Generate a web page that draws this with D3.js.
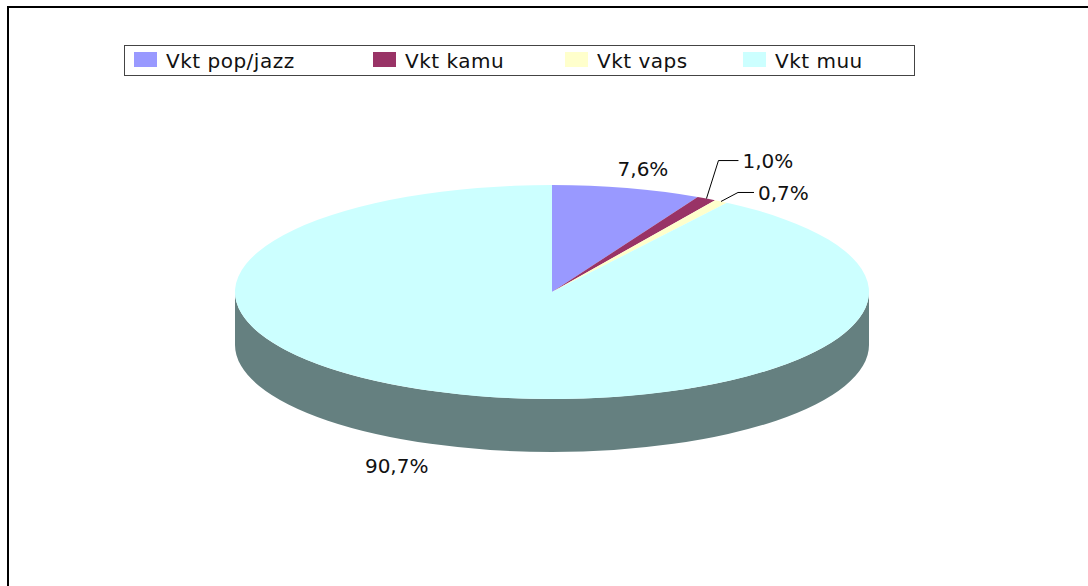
<!DOCTYPE html>
<html>
<head>
<meta charset="utf-8">
<script src="https://cdn.jsdelivr.net/npm/d3@7"></script>
<style>
  html, body { margin: 0; padding: 0; background: #fff; overflow: hidden; }
  text { font-family: "DejaVu Sans", Verdana, sans-serif; fill: #111; }
</style>
</head>
<body>
<script>
'use strict';

// chart data
const categories = ["Vkt pop/jazz", "Vkt kamu", "Vkt vaps", "Vkt muu"];
const shares = [7.6, 1.0, 0.7, 90.7];
const shareLabels = ["7,6%", "1,0%", "0,7%", "90,7%"];
const topColors = ["#9999ff", "#993366", "#ffffcc", "#ccffff"];
const sideColors = ["#66668a", "#662244", "#8a8a70", "#658080"];

(function() {
  const width = 1088, height = 586;

  // pie geometry (ellipse seen in perspective)
  const cx = 552, cy = 292, rx = 317, ry = 107, depth = 53;

  // label tweaks relative to the slice mid-point on the rim
  const labelLayout = [
    { dx: 16, dy: -12, leader: false },
    { dx: 36, knee: [12, -38], end: 32, leader: true },
    { dx: 37, knee: [17, -9], end: 33, leader: true },
    { dx: -64, dy: 79, leader: false }
  ];

  // left edge of each legend entry
  const legendSlots = [134, 373, 565, 743];

  const svg = d3.select('body')
    .append('svg')
    .attr('width', width)
    .attr('height', height);

  // outer frame (runs off the page on the right and bottom)
  svg.append('rect')
    .attr('x', 8).attr('y', 7)
    .attr('width', 1100).attr('height', 600)
    .attr('fill', 'none')
    .attr('stroke', '#000')
    .attr('stroke-width', 2);

  const pie = d3.pie().sort(null).value(d => d)(shares);

  // point on the top ellipse for an angle measured clockwise from 12 o'clock
  function pt(a, dy) {
    return [cx + rx * Math.sin(a), cy - ry * Math.cos(a) + (dy || 0)];
  }

  // side walls: only the front half (pi/2 .. 3pi/2) is visible
  const sides = svg.append('g');
  pie.forEach((p, i) => {
    const s = Math.max(p.startAngle, Math.PI / 2);
    const e = Math.min(p.endAngle, Math.PI * 3 / 2);
    if (e <= s) return;
    const a = pt(s), b = pt(e), bb = pt(e, depth), ab = pt(s, depth);
    const large = (e - s) > Math.PI ? 1 : 0;
    sides.append('path')
      .attr('d', `M${a} A${rx},${ry} 0 ${large} 1 ${b} L${bb} A${rx},${ry} 0 ${large} 0 ${ab} Z`)
      .attr('fill', sideColors[i]);
  });

  // top face slices
  const tops = svg.append('g');
  pie.forEach((p, i) => {
    const a = pt(p.startAngle), b = pt(p.endAngle);
    const large = (p.endAngle - p.startAngle) > Math.PI ? 1 : 0;
    tops.append('path')
      .attr('d', `M${cx},${cy} L${a} A${rx},${ry} 0 ${large} 1 ${b} Z`)
      .attr('fill', topColors[i]);
  });

  // data labels
  const labels = svg.append('g');
  pie.forEach((p, i) => {
    const mid = (p.startAngle + p.endAngle) / 2;
    const anchor = pt(mid);
    const lay = labelLayout[i];
    if (lay.leader) {
      const knee = [anchor[0] + lay.knee[0], anchor[1] + lay.knee[1]];
      labels.append('polyline')
        .attr('points', [anchor, knee, [anchor[0] + lay.end, knee[1]]].map(q => q.join(',')).join(' '))
        .attr('fill', 'none')
        .attr('stroke', '#000')
        .attr('stroke-width', 1);
      labels.append('text')
        .attr('x', anchor[0] + lay.dx)
        .attr('y', knee[1])
        .attr('dy', '0.36em')
        .style('font-size', '20px')
        .text(shareLabels[i]);
    } else {
      labels.append('text')
        .attr('x', anchor[0] + lay.dx)
        .attr('y', anchor[1] + lay.dy)
        .attr('text-anchor', 'middle')
        .style('font-size', '20px')
        .text(shareLabels[i]);
    }
  });

  // legend box
  svg.append('rect')
    .attr('x', 124.5).attr('y', 45.5)
    .attr('width', 790).attr('height', 30)
    .attr('fill', '#fff')
    .attr('stroke', '#444')
    .attr('stroke-width', 1);

  const legend = svg.selectAll('.legend')
    .data(categories)
    .enter()
    .append('g')
    .attr('class', 'legend')
    .attr('transform', (d, i) => `translate(${legendSlots[i]},52)`);

  legend.append('rect')
    .attr('width', 23)
    .attr('height', 15)
    .attr('fill', (d, i) => topColors[i]);

  legend.append('text')
    .attr('x', 32)
    .attr('y', 16)
    .style('font-size', '20px')
    .style('letter-spacing', '0.5px')
    .text(d => d);
})();
</script>
</body>
</html>
